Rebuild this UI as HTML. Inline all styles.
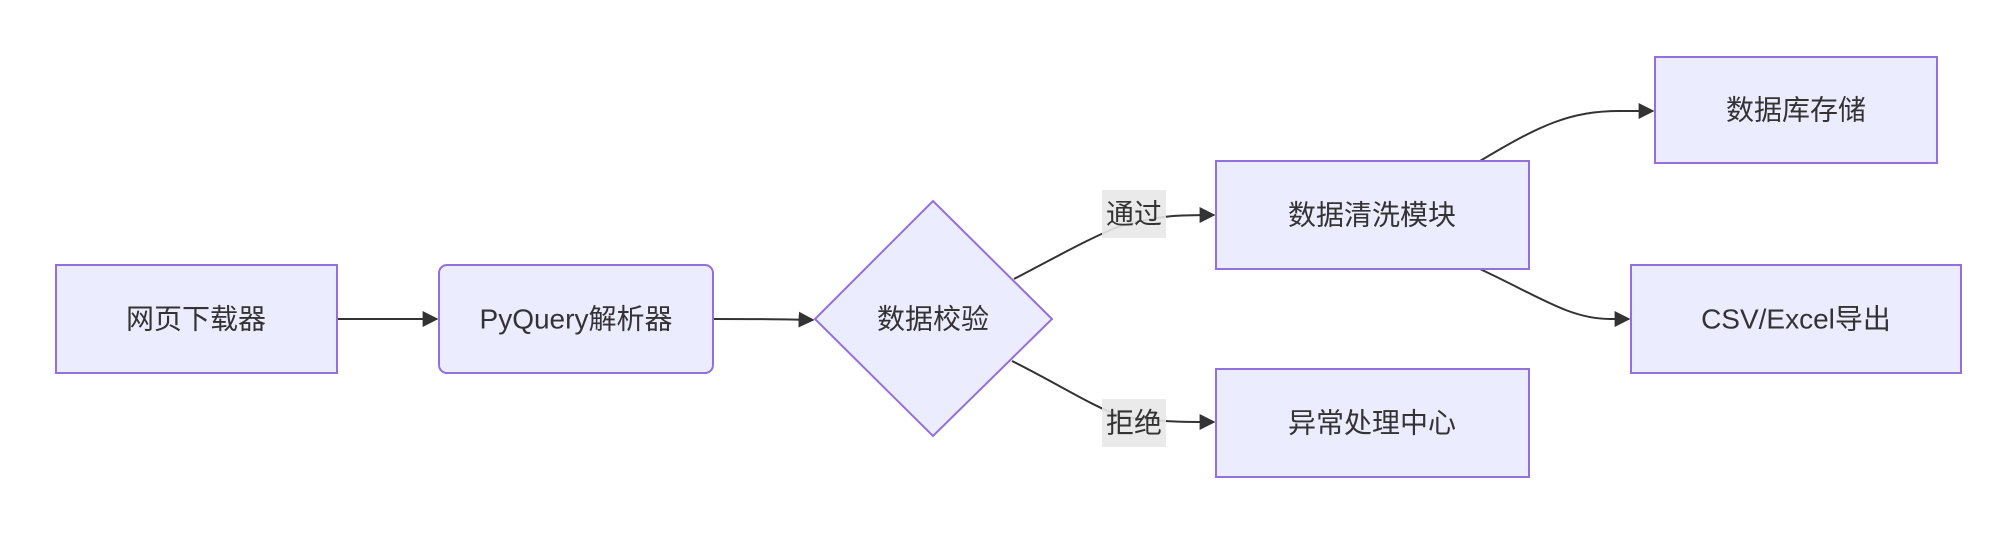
<!DOCTYPE html>
<html><head><meta charset="utf-8"><style>
body{margin:0;background:#fff;}
svg text{font-family:"Liberation Sans","Noto Sans CJK SC",sans-serif;font-size:28px;fill:#333;}
</style></head><body>
<svg width="2008" height="532" viewBox="0 0 2008 532" xmlns="http://www.w3.org/2000/svg">
<defs><marker id="a" viewBox="0 0 10 10" refX="9" refY="5" markerWidth="8" markerHeight="8" markerUnits="userSpaceOnUse" orient="auto"><path d="M0,0L10,5L0,10z" fill="#333"/></marker>
<marker id="b" viewBox="0 0 10 10" refX="9" refY="5" markerWidth="16" markerHeight="16" markerUnits="userSpaceOnUse" orient="auto"><path d="M0,0L10,5L0,10z" fill="#333"/></marker></defs>
<g fill="none" stroke="#333" stroke-width="2">
<path d="M337,319L437,319" marker-end="url(#b)"/>
<path d="M713,319C760,319 780,319 813,320" marker-end="url(#b)"/>
<path d="M1014,279C1060,255 1090,238 1120,226C1160,215 1180,215 1214,215" marker-end="url(#b)"/>
<path d="M1012,361C1060,385 1090,405 1120,416C1160,422 1180,422 1214,422" marker-end="url(#b)"/>
<path d="M1480,161C1540,125 1570,111 1620,111L1653,111" marker-end="url(#b)"/>
<path d="M1480,269C1540,297 1570,319 1610,319L1629,319" marker-end="url(#b)"/>
</g>
<g fill="#ececff" stroke="#9370db" stroke-width="2">
<rect x="56" y="265" width="281" height="108"/>
<rect x="439" y="265" width="274" height="108" rx="8"/>
<polygon points="933,201 1052,319 933,436 815,319"/>
<rect x="1216" y="161" width="313" height="108"/>
<rect x="1216" y="369" width="313" height="108"/>
<rect x="1655" y="57" width="282" height="106"/>
<rect x="1631" y="265" width="330" height="108"/>
</g>
<rect x="1102" y="190" width="64" height="48" fill="#e8e8e8" opacity="0.9"/>
<rect x="1102" y="399" width="64" height="48" fill="#e8e8e8" opacity="0.9"/>
<g text-anchor="middle" dominant-baseline="central">
<text x="196" y="319">网页下载器</text>
<text x="576" y="319">PyQuery解析器</text>
<text x="933" y="319">数据校验</text>
<text x="1372" y="215">数据清洗模块</text>
<text x="1372" y="423">异常处理中心</text>
<text x="1796" y="110">数据库存储</text>
<text x="1796" y="319">CSV/Excel导出</text>
<text x="1134" y="214">通过</text>
<text x="1134" y="423">拒绝</text>
</g>
</svg>
</body></html>
